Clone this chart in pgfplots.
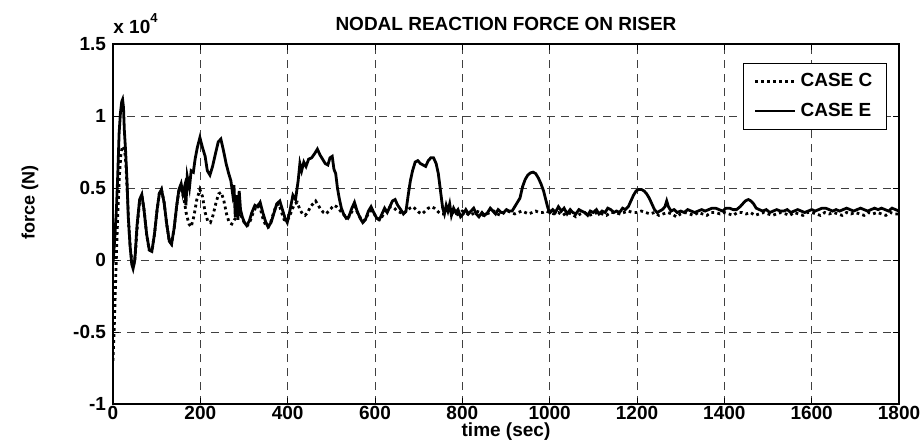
\documentclass[border=0pt]{standalone}
\usepackage{pgfplots}
\pgfplotsset{compat=1.18}
\usepackage{fontspec}
\setmainfont{Liberation Sans}
\begin{document}
\begin{tikzpicture}
\path[use as bounding box] (0,0) rectangle (462pt,220pt);
\begin{axis}[
  name=ax,
  at={(56.5pt,18pt)}, anchor=south west,
  width=393pt, height=180pt, scale only axis,
  xmin=0, xmax=1800, ymin=-10000, ymax=15000,
  xtick={0,200,...,1800},
  ytick={-10000,-5000,0,5000,10000,15000},
  yticklabels={-1,-0.5,0,0.5,1,1.5},
  scaled y ticks=false, scaled x ticks=false,
  /pgf/number format/1000 sep={},
  /pgf/number format/assume math mode=true,
  tick label style={font=\bfseries\fontsize{9.5}{10}\selectfont},
  xticklabel style={yshift=2.2pt},
  tick align=inside, major tick length=3pt,
  xtick pos=both, ytick pos=both,
  grid=major,
  major grid style={black!75, line width=0.45pt, dash pattern=on 4pt off 3pt},
  axis line style={line width=0.7pt},
  every tick/.style={black, line width=0.5pt},
  every axis title shift=0pt,
  title={NODAL REACTION FORCE ON RISER},
  title style={at={(axis description cs:0.5,1)}, anchor=base, yshift=6.6pt, font=\bfseries\fontsize{9.5}{10}\selectfont},
  xlabel={time (sec)},
  xlabel style={at={(axis description cs:0.5,0)}, anchor=base, yshift=-16.3pt, font=\bfseries\fontsize{9.5}{10}\selectfont},
  ylabel={force (N)},
  ylabel style={at={(axis description cs:-0.1056,0.56)}, rotate=0, anchor=center, font=\bfseries\fontsize{9}{10}\selectfont},
  legend style={at={(axis description cs:1,1)}, anchor=north east, xshift=-6pt, yshift=-9.5pt,
    font=\bfseries\fontsize{9.5}{10}\selectfont, draw=black, line width=0.6pt, fill=white,
    inner xsep=5pt, inner ysep=3pt, row sep=2.5pt,
    /tikz/every even column/.append style={column sep=3pt}},
  legend cell align=left,
  legend image code/.code={\draw[#1] (0pt,0pt) -- (20pt,0pt);},
]
\addplot[black, line width=1.4pt, dash pattern=on 1.4pt off 1.6pt] coordinates {
(0,-7000) (3,-4500) (6,-1500) (9,1500) (12,4000) (15,6000) (18,7300) (21,7800) (24,7900) (27,7500) (30,6500) (33,4500) (36,2500) (40,700) (44,-200) (47,-400) (51,300) (56,2500) (61,4100) (66,4500) (71,3500) (77,1800) (83,700) (89,600) (95,1800) (101,3500) (106,4600) (111,4900) (117,4000) (123,2500) (129,1300) (134,1100) (140,2200) (146,3800) (151,4800) (156,5000) (162,4300) (168,3200) (174,2500) (179,2300) (185,3000) (192,4200) (199,4900) (205,4400) (211,3300) (217,2700) (223,2600) (229,3100) (236,4000) (242,4600) (248,4700) (254,4100) (260,3200) (266,2600) (272,2500) (278,2800) (284,3000) (290,3300) (296,2900) (302,2500) (308,2400) (314,2700) (320,3200) (326,3600) (332,3800) (338,3500) (344,2800) (350,2400) (356,2300) (362,2700) (368,3300) (374,3800) (380,3900) (386,3300) (392,2800) (398,2700) (404,3000) (410,3500) (416,3900) (422,4000) (428,3500) (434,3200) (440,3100) (446,3300) (452,3700) (458,3900) (464,4100) (470,3800) (476,3500) (482,3300) (488,3200) (494,3400) (500,3600) (506,3800) (512,3700) (518,3500) (524,3300) (530,3100) (538,2900) (546,3300) (553,3700) (560,3300) (567,2900) (574,2700) (581,3000) (588,3400) (595,3400) (602,3000) (609,2800) (616,3000) (623,3400) (630,3600) (637,3700) (644,3600) (651,3400) (658,3300) (665,3200) (672,3400) (680,3600) (687,3700) (694,3500) (701,3300) (708,3200) (715,3400) (722,3600) (729,3700) (736,3600) (743,3400) (750,3200) (757,3200) (764,3400) (771,3500) (778,3300) (785,3100) (792,3200) (800,3400) (808,3300) (816,3100) (824,3200) (832,3400) (840,3300) (848,3100) (856,3200) (864,3300) (872,3400) (880,3200) (888,3100) (896,3300) (904,3400) (912,3300) (920,3200) (928,3300) (936,3400) (944,3300) (952,3200) (960,3300) (968,3400) (976,3300) (984,3300) (992,3400) (1000,3300) (1010,3200) (1020,3300) (1030,3100) (1040,3300) (1050,3200) (1060,3000) (1070,3200) (1080,3300) (1090,3100) (1100,3200) (1110,3300) (1120,3200) (1130,3100) (1140,3300) (1150,3300) (1160,3200) (1170,3300) (1180,3400) (1190,3300) (1200,3300) (1210,3400) (1220,3300) (1230,3200) (1240,3300) (1250,3100) (1260,3200) (1270,3300) (1280,3200) (1290,3000) (1300,3200) (1310,3300) (1320,3200) (1330,3100) (1340,3300) (1350,3200) (1360,3100) (1370,3300) (1380,3300) (1390,3200) (1400,3300) (1410,3200) (1420,3100) (1430,3300) (1440,3300) (1450,3200) (1460,3300) (1470,3100) (1480,3200) (1490,3300) (1500,3200) (1510,3100) (1520,3200) (1530,3300) (1540,3200) (1550,3100) (1560,3300) (1570,3200) (1580,3100) (1590,3300) (1600,3300) (1610,3200) (1620,3100) (1630,3300) (1640,3200) (1650,3300) (1660,3200) (1670,3100) (1680,3300) (1690,3200) (1700,3300) (1710,3200) (1720,3100) (1730,3300) (1740,3200) (1750,3300) (1760,3200) (1770,3100) (1780,3300) (1790,3200) (1800,3200)
};
\addlegendentry{CASE C}
\addplot[black, line width=1.4pt] coordinates {
(0,-300) (4,1500) (8,3600) (11,6000) (14,8800) (17,10200) (20,11000) (22,11150) (24,10600) (26,9000) (29,7500) (32,5500) (35,3000) (39,1000) (43,-300) (46,-600) (50,0) (55,2400) (61,4200) (66,4550) (71,3500) (77,1800) (83,700) (89,600) (95,1800) (101,3500) (106,4600) (111,4900) (117,4000) (123,2500) (129,1300) (134,1100) (140,2200) (146,3800) (151,4900) (156,5300) (160,4600) (164,5100) (167,3800) (170,5800) (175,5000) (179,6200) (184,6100) (188,7000) (193,7800) (199,8500) (205,7800) (211,7200) (216,6200) (222,5900) (228,6500) (234,7300) (241,8200) (247,8400) (253,7600) (259,6700) (265,6000) (270,5500) (274,4600) (277,5200) (280,3000) (283,4500) (286,2800) (289,4800) (292,3500) (296,3000) (301,2600) (306,2400) (312,2700) (318,3300) (325,3800) (331,3700) (337,4000) (343,3300) (349,2700) (355,2300) (362,2600) (369,3300) (375,3900) (382,4100) (388,3500) (394,2900) (399,2600) (405,3400) (412,4500) (418,4200) (424,5500) (428,6700) (432,6200) (437,6800) (442,6500) (448,7000) (455,7100) (462,7400) (468,7700) (474,7300) (480,7000) (486,6700) (492,6600) (497,7100) (502,7200) (506,6300) (510,6000) (514,5000) (518,4300) (523,3600) (528,3200) (534,2900) (540,3000) (547,3600) (553,4000) (559,3400) (566,2900) (572,2600) (578,2800) (585,3400) (591,3700) (597,3300) (604,2900) (610,2800) (616,3200) (622,3600) (628,3300) (634,3700) (640,4100) (646,4200) (652,3800) (659,3500) (665,3200) (671,3400) (676,4500) (681,5500) (686,6200) (692,6800) (698,6900) (704,6700) (710,6600) (716,6500) (722,6900) (728,7100) (734,7100) (740,6700) (745,6000) (750,4800) (755,3600) (759,3200) (763,3800) (767,3400) (771,3900) (775,3100) (780,3600) (785,3300) (790,3500) (796,3000) (802,3200) (808,3500) (814,3200) (820,3400) (826,3600) (832,3200) (838,3000) (845,3300) (851,3100) (858,3300) (864,3600) (870,3400) (876,3200) (882,3500) (889,3300) (895,3300) (901,3500) (907,3400) (914,3400) (920,3700) (926,4000) (932,4300) (938,5100) (944,5600) (950,5900) (956,6050) (962,6100) (968,6000) (974,5700) (980,5300) (986,4800) (991,4200) (996,3600) (1001,3300) (1007,3500) (1013,3300) (1020,3700) (1027,3400) (1033,3600) (1040,3200) (1047,3500) (1053,3300) (1060,3200) (1067,3500) (1073,3400) (1080,3300) (1087,3100) (1093,3400) (1100,3300) (1107,3500) (1113,3200) (1120,3400) (1127,3300) (1133,3600) (1140,3500) (1147,3300) (1153,3400) (1160,3300) (1167,3600) (1173,3500) (1180,3700) (1186,4100) (1192,4500) (1198,4800) (1204,4900) (1210,4900) (1216,4800) (1222,4600) (1228,4300) (1234,3900) (1240,3500) (1246,3300) (1252,3400) (1258,3500) (1264,3700) (1268,4100) (1272,3700) (1278,3400) (1285,3500) (1292,3300) (1300,3400) (1308,3300) (1316,3500) (1324,3400) (1332,3300) (1340,3400) (1348,3500) (1356,3400) (1364,3500) (1372,3600) (1380,3600) (1388,3500) (1396,3400) (1404,3600) (1412,3600) (1420,3500) (1428,3500) (1436,3700) (1442,3900) (1448,4100) (1455,4200) (1461,4100) (1467,3900) (1473,3600) (1480,3500) (1488,3400) (1496,3500) (1504,3300) (1512,3400) (1520,3500) (1528,3400) (1536,3400) (1544,3500) (1552,3300) (1560,3400) (1568,3500) (1576,3400) (1584,3300) (1592,3400) (1600,3500) (1608,3400) (1616,3500) (1624,3600) (1632,3600) (1640,3500) (1648,3400) (1656,3500) (1664,3400) (1672,3500) (1680,3600) (1688,3500) (1696,3400) (1704,3500) (1712,3600) (1720,3500) (1728,3400) (1736,3500) (1744,3600) (1752,3500) (1760,3600) (1768,3500) (1776,3400) (1784,3600) (1792,3500) (1800,3400)
};
\addlegendentry{CASE E}
\end{axis}
\node[anchor=base west, font=\bfseries\fontsize{9.5}{10}\selectfont, inner sep=0pt, yshift=5.5pt] at (ax.north west) {x 10\raisebox{0.55em}{\fontsize{6.5}{7}\selectfont 4}};
\end{tikzpicture}
\end{document}
